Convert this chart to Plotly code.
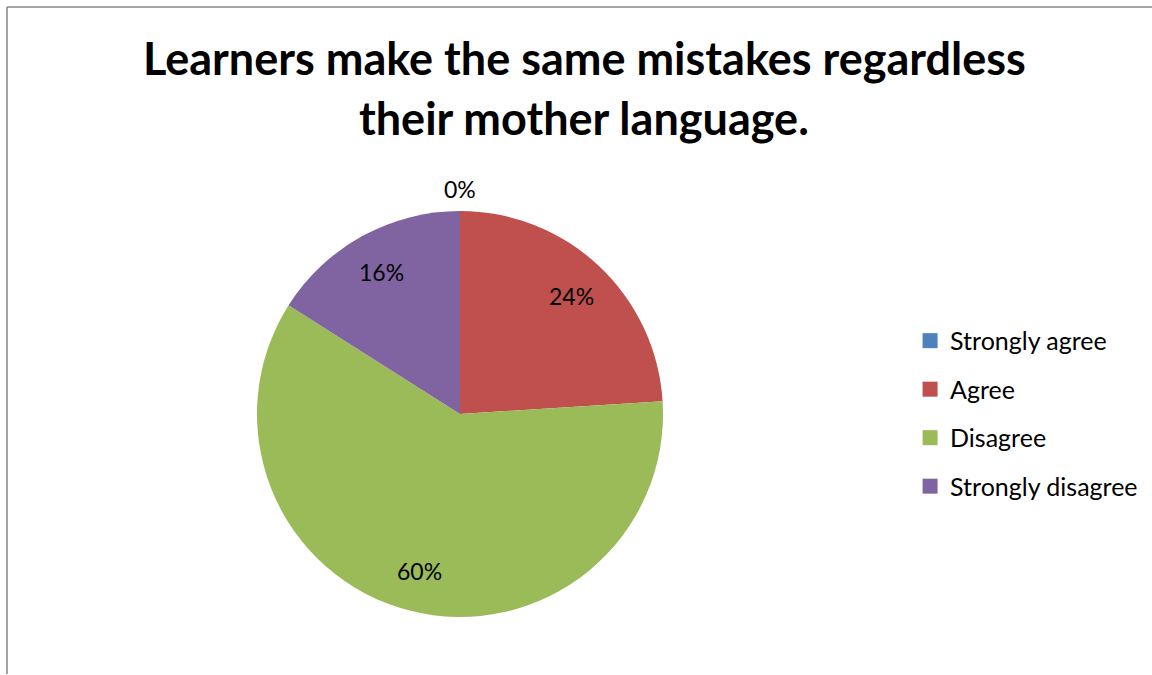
import math
import plotly.graph_objects as go

# Survey responses (percent of respondents)
categories = ["Strongly agree", "Agree", "Disagree", "Strongly disagree"]
values = [0, 24, 60, 16]
colors = ["#4F81BD", "#C0504D", "#9BBB59", "#8064A2"]

title_lines = ["Learners make the same mistakes regardless", "their mother language."]
FONT = "Lato, Calibri, Carlito, sans-serif"

W, H = 1152, 675
CX, CY, R = 460, 414, 203  # pie centre and radius in pixels

pie_domain = dict(x=[(CX - R) / W, (CX + R) / W], y=[1 - (CY + R) / H, 1 - (CY - R) / H])

fig = go.Figure()

fig.add_trace(go.Pie(
    labels=categories,
    values=values,
    sort=False,
    direction="clockwise",
    rotation=0,
    marker=dict(colors=colors, line=dict(width=0)),
    textinfo="none",
    showlegend=False,
    domain=pie_domain,
    hoverinfo="label+percent",
))

# Data labels: placed along each slice's bisector; empty slices sit just outside the rim
total = sum(values)
annotations = []
cum = 0
for v in values:
    mid = (cum + v / 2) / total * 2 * math.pi
    cum += v
    r = 0.8 * R if v > 0 else R + 22
    px = CX + r * math.sin(mid)
    py = CY - r * math.cos(mid)
    annotations.append(dict(
        x=px / W, y=1 - py / H, xref="paper", yref="paper",
        text=f"{v}%", showarrow=False, xanchor="center", yanchor="middle",
        font=dict(family=FONT, size=23, color="black"),
    ))

# Two-line chart title
for line, yc in zip(title_lines, [58, 118]):
    annotations.append(dict(
        x=584 / W, y=1 - yc / H, xref="paper", yref="paper",
        text=f"<b>{line}</b>", showarrow=False, xanchor="center", yanchor="middle",
        font=dict(family=FONT, size=45, color="black"),
    ))

# Legend entries, one group each so the group gap spaces them out
for i, (name, col) in enumerate(zip(categories, colors)):
    fig.add_trace(go.Scatter(
        x=[None], y=[None], mode="markers", name=name,
        legendgroup=f"g{i}",
        marker=dict(symbol="square", size=15, color=col),
    ))

fig.update_layout(
    width=W, height=H,
    margin=dict(l=0, r=0, t=0, b=0),
    paper_bgcolor="white", plot_bgcolor="white",
    xaxis=dict(visible=False), yaxis=dict(visible=False),
    legend=dict(x=0.79, y=0.529, xanchor="left", yanchor="top",
                font=dict(family=FONT, size=25, color="black"),
                tracegroupgap=13, itemwidth=30, bgcolor="rgba(0,0,0,0)"),
    annotations=annotations,
    shapes=[
        dict(type="line", xref="paper", yref="paper", x0=7 / W, x1=1, y0=1 - 7 / H, y1=1 - 7 / H,
             line=dict(color="#868686", width=1.5)),
        dict(type="line", xref="paper", yref="paper", x0=7 / W, x1=7 / W, y0=1 - 7 / H, y1=1 / H,
             line=dict(color="#868686", width=1.5)),
    ],
)

fig.write_html("out.html")
